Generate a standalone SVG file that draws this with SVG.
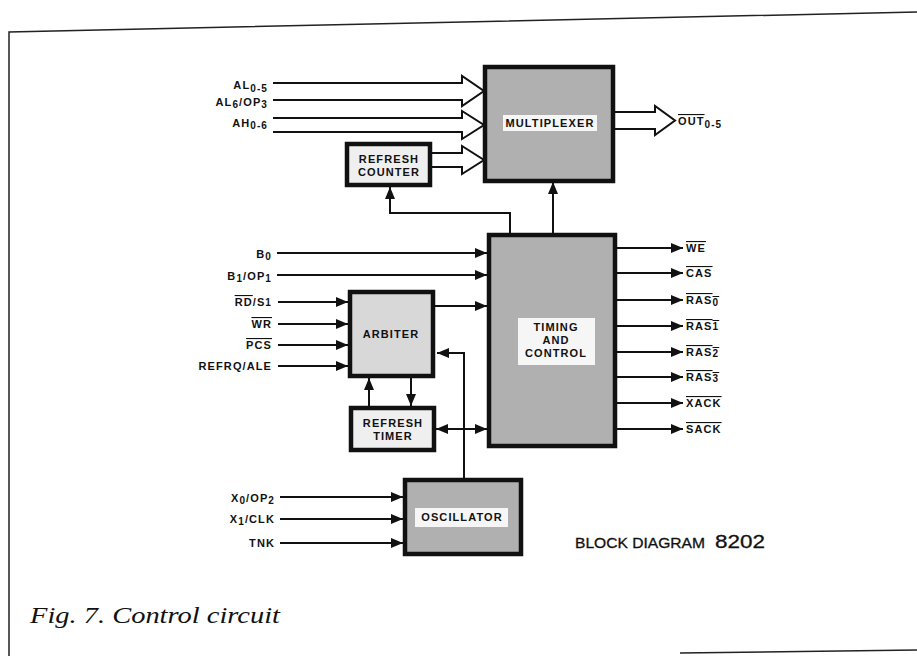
<svg xmlns="http://www.w3.org/2000/svg" width="917" height="656" viewBox="0 0 917 656">
<style>
.box{stroke:#111;stroke-width:4.5}
.dark{fill:#b0b0b0}
.mid{fill:#d8d8d8}
.light{fill:#efefef}
.band{fill:#f6f6f6}
.t{font-family:"Liberation Sans",Arial,sans-serif;font-weight:bold;font-size:11px;fill:#111;letter-spacing:1.1px}
.c{text-anchor:middle}
.r{text-anchor:end}
.ov{text-decoration:overline}
.w{stroke:#111;stroke-width:2;fill:none}
.cap{font-family:"Liberation Serif","Times New Roman",serif;font-style:italic;font-size:24px;fill:#111}
.bd{font-family:"Liberation Sans",Arial,sans-serif;fill:#111;stroke:#111;stroke-width:0.3}
</style>
<defs>
<marker id="ah" viewBox="0 0 12 10" refX="12" refY="5" markerWidth="13" markerHeight="10" markerUnits="userSpaceOnUse" orient="auto-start-reverse">
<path d="M0,0 L12,5 L0,10 Z" fill="#111"/>
</marker>
</defs>
<rect width="917" height="656" fill="#fff"/>
<g id="frame" stroke="#222" stroke-width="1.5" fill="none">
<path d="M9,656 V32 L917,12"/>
<path d="M680,653 L917,650"/>
</g>

<g id="connectors" class="w">
<path d="M273,83 H462 V76 L484,91 L462,106 V100 H273"/>
<path d="M273,118 H462 V111 L484,125 L462,139 V132 H273"/>
<path d="M432,153 H462 V146 L484,160 L462,174 V167 H432"/>
<path d="M615,112 H655 V106 L675,120.5 L655,135 V129 H615"/>
<line x1="277" y1="253" x2="487" y2="253" marker-end="url(#ah)"/>
<line x1="277" y1="275" x2="487" y2="275" marker-end="url(#ah)"/>
<line x1="435" y1="306" x2="487" y2="306" marker-end="url(#ah)"/>
<line x1="278" y1="302" x2="348" y2="302" marker-end="url(#ah)"/>
<line x1="278" y1="324" x2="348" y2="324" marker-end="url(#ah)"/>
<line x1="278" y1="345" x2="348" y2="345" marker-end="url(#ah)"/>
<line x1="278" y1="366" x2="348" y2="366" marker-end="url(#ah)"/>
<path d="M464,478 V353 H437" marker-end="url(#ah)"/>
<line x1="436" y1="429" x2="487" y2="429" marker-start="url(#ah)" marker-end="url(#ah)"/>
<line x1="411" y1="378" x2="411" y2="406" marker-end="url(#ah)"/>
<line x1="369" y1="406" x2="369" y2="378" marker-end="url(#ah)"/>
<path d="M510,233 V213 H390 V187" marker-end="url(#ah)"/>
<line x1="553" y1="233" x2="553" y2="182" marker-end="url(#ah)"/>
<line x1="617" y1="248" x2="683" y2="248" marker-end="url(#ah)"/>
<line x1="617" y1="273" x2="683" y2="273" marker-end="url(#ah)"/>
<line x1="617" y1="300" x2="683" y2="300" marker-end="url(#ah)"/>
<line x1="617" y1="326" x2="683" y2="326" marker-end="url(#ah)"/>
<line x1="617" y1="352" x2="683" y2="352" marker-end="url(#ah)"/>
<line x1="617" y1="377" x2="683" y2="377" marker-end="url(#ah)"/>
<line x1="617" y1="403" x2="683" y2="403" marker-end="url(#ah)"/>
<line x1="617" y1="429" x2="683" y2="429" marker-end="url(#ah)"/>
<line x1="280" y1="497" x2="403" y2="497" marker-end="url(#ah)"/>
<line x1="280" y1="519" x2="403" y2="519" marker-end="url(#ah)"/>
<line x1="280" y1="543" x2="403" y2="543" marker-end="url(#ah)"/>
</g>

<g id="multiplexer">
<rect class="box dark" x="485" y="67" width="128" height="114"/>
<rect class="band" x="503" y="115" width="94" height="16"/>
<text class="t c" x="550" y="127">MULTIPLEXER</text>
</g>
<g id="refresh-counter">
<rect class="box light" x="347" y="144" width="83" height="41"/>
<text class="t c" x="389" y="163">REFRESH</text>
<text class="t c" x="389" y="176">COUNTER</text>
</g>
<g id="timing-control">
<rect class="box dark" x="489" y="235" width="126" height="211"/>
<rect class="band" x="518" y="318" width="77" height="47"/>
<text class="t c" x="556" y="331">TIMING</text>
<text class="t c" x="556" y="344">AND</text>
<text class="t c" x="556" y="357">CONTROL</text>
</g>
<g id="arbiter">
<rect class="box mid" x="350" y="292" width="83" height="84"/>
<text class="t c" x="391" y="338">ARBITER</text>
</g>
<g id="refresh-timer">
<rect class="box light" x="351" y="408" width="83" height="42"/>
<text class="t c" x="393" y="427">REFRESH</text>
<text class="t c" x="393" y="440">TIMER</text>
</g>
<g id="oscillator">
<rect class="box dark" x="405" y="480" width="116" height="74"/>
<rect class="band" x="415" y="508" width="93" height="19"/>
<text class="t c" x="462" y="521">OSCILLATOR</text>
</g>

<g id="labels">
<text class="t r" x="268" y="89">AL<tspan font-size="10" dy="3">0-5</tspan></text>
<text class="t r" x="268" y="106">AL<tspan font-size="10" dy="2">6</tspan><tspan dy="-2">/OP</tspan><tspan font-size="10" dy="2">3</tspan></text>
<text class="t r" x="268" y="127">AH<tspan font-size="10" dy="2">0-6</tspan></text>
<text class="t" x="678" y="125"><tspan class="ov">OUT</tspan><tspan font-size="10" dy="3">0-5</tspan></text>
<text class="t r" x="272" y="258">B<tspan font-size="10" dy="2">0</tspan></text>
<text class="t r" x="272" y="280">B<tspan font-size="10" dy="2">1</tspan><tspan dy="-2">/OP</tspan><tspan font-size="10" dy="2">1</tspan></text>
<text class="t r" x="272" y="306"><tspan class="ov">RD</tspan>/S<tspan font-size="10">1</tspan></text>
<text class="t r" x="272" y="328"><tspan class="ov">WR</tspan></text>
<text class="t r" x="272" y="349"><tspan class="ov">PCS</tspan></text>
<text class="t r" x="272" y="370">REFRQ/ALE</text>
<text class="t r" x="275" y="502">X<tspan font-size="10" dy="2">0</tspan><tspan dy="-2">/OP</tspan><tspan font-size="10" dy="2">2</tspan></text>
<text class="t r" x="275" y="523">X<tspan font-size="10" dy="2">1</tspan><tspan dy="-2">/CLK</tspan></text>
<text class="t r" x="275" y="547">TNK</text>
<text class="t" x="686" y="252"><tspan class="ov">WE</tspan></text>
<text class="t" x="686" y="277"><tspan class="ov">CAS</tspan></text>
<text class="t" x="686" y="304"><tspan class="ov">RAS<tspan font-size="10" dy="2">0</tspan></tspan></text>
<text class="t" x="686" y="330"><tspan class="ov">RAS<tspan font-size="10">1</tspan></tspan></text>
<text class="t" x="686" y="356"><tspan class="ov">RAS<tspan font-size="10" dy="1">2</tspan></tspan></text>
<text class="t" x="686" y="381"><tspan class="ov">RAS<tspan font-size="10" dy="1">3</tspan></tspan></text>
<text class="t" x="686" y="407"><tspan class="ov">XACK</tspan></text>
<text class="t" x="686" y="433"><tspan class="ov">SACK</tspan></text>
<text class="bd" x="575" y="548" font-size="14" textLength="130" lengthAdjust="spacingAndGlyphs">BLOCK DIAGRAM</text>
<text class="bd" x="715" y="548" font-size="19" textLength="50" lengthAdjust="spacingAndGlyphs">8202</text>
<text class="cap" x="30" y="623" textLength="250" lengthAdjust="spacingAndGlyphs">Fig. 7. Control circuit</text>
</g>
</svg>
